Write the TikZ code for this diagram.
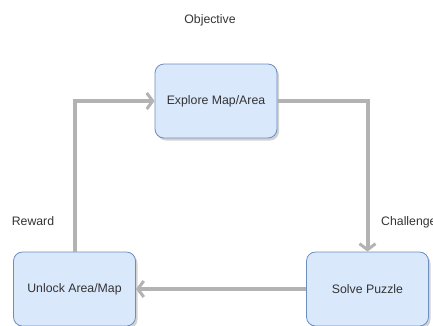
\documentclass[tikz,border=0pt]{standalone}
\usepackage{fontspec}
\setmainfont{Liberation Sans}
\usetikzlibrary{arrows.meta,shadows}
\definecolor{boxfill}{HTML}{DAE8FC}
\definecolor{boxline}{HTML}{6C8EBF}
\definecolor{txt}{HTML}{333333}
\definecolor{arr}{HTML}{B3B3B3}
\begin{document}
\begin{tikzpicture}[x=1pt,y=-1pt,
  box/.style={draw=boxline, fill=boxfill, rounded corners=9pt, line width=0.8pt,
    minimum width=122pt, minimum height=74pt, text=txt, font=\fontsize{12.3}{14}\selectfont,
    drop shadow={shadow xshift=2pt, shadow yshift=-2.5pt, opacity=0.35, fill=gray}},
  lbl/.style={text=txt, font=\fontsize{12.3}{14}\selectfont, inner sep=0pt},
  flow/.style={draw=arr, line width=4pt, -{Straight Barb[length=6pt,width=16pt,line width=3pt]}}
]
\useasboundingbox (0,0) rectangle (433,325);
\node[box] (explore) at (216,101) {Explore Map/Area};
\node[box] (unlock) at (74.5,289) {Unlock Area/Map};
\node[box] (solve) at (367.5,289) {Solve Puzzle};
\node[lbl] (objective) at (210,20) {Objective};
\node[lbl] (reward) at (33,221) {Reward};
\node[lbl, anchor=west] (challenge) at (381,222) {Challenge};
\draw[flow] (explore.east) -| (solve.north);
\draw[flow] (solve.west) -- (unlock.east);
\draw[flow] (unlock.north) |- (explore.west);
\end{tikzpicture}
\end{document}
